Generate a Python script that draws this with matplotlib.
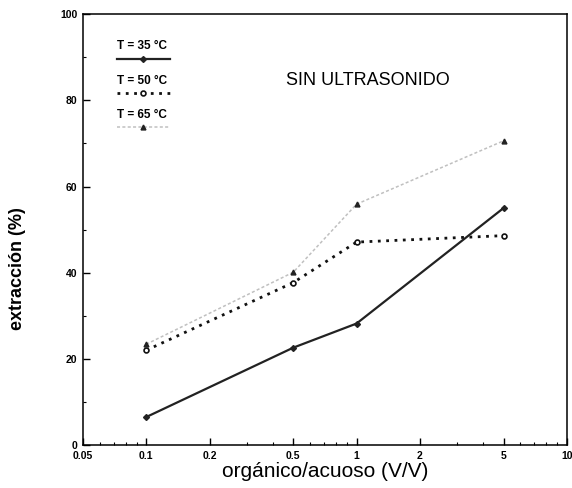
import matplotlib
matplotlib.use("Agg")
import matplotlib.pyplot as plt
from matplotlib.lines import Line2D
from matplotlib.ticker import FixedLocator, NullFormatter

plt.rcParams['font.family'] = ['Liberation Sans', 'DejaVu Sans']

x_ratio = [0.1, 0.5, 1, 5]
ext_35 = [6.5, 22.6, 28.2, 55.0]
ext_50 = [22.0, 37.7, 47.1, 48.6]
ext_65 = [23.4, 40.1, 55.9, 70.6]
labels = ["T = 35 \u00b0C", "T = 50 \u00b0C", "T = 65 \u00b0C"]
x_ticks = [0.05, 0.1, 0.2, 0.5, 1, 2, 5, 10]
x_ticklabels = ["0.05", "0.1", "0.2", "0.5", "1", "2", "5", "10"]
y_ticks = [0, 20, 40, 60, 80, 100]

fig = plt.figure(figsize=(5.72, 4.88), dpi=100)
ax = fig.add_axes([0.145, 0.088, 0.846, 0.883])

styles = [
    dict(color='#222222', ls='-', lw=1.6, marker='D', ms=3, mfc='#222222'),
    dict(color='#111111', ls=(0, (1, 2)), lw=2.0, marker='o', ms=3.5, mfc='white', mew=1.2),
    dict(color='#c0c0c0', ls=(0, (2, 1.5)), lw=1.1, marker='^', ms=3.5, mfc='#222222', mec='#222222'),
]
for ys, st in zip([ext_35, ext_50, ext_65], styles):
    ax.plot(x_ratio, ys, **st)

ax.set_xscale('log')
ax.set_xlim(0.05, 10)
ax.set_ylim(0, 100)
ax.xaxis.set_major_locator(FixedLocator(x_ticks))
ax.set_xticklabels(x_ticklabels)
ax.xaxis.set_minor_formatter(NullFormatter())
ax.set_yticks(y_ticks)
ax.yaxis.set_minor_locator(FixedLocator([10, 30, 50, 70, 90]))
ax.tick_params(axis='both', which='major', direction='in', length=5, width=1,
               labelsize=7.5, pad=4)
ax.tick_params(axis='both', which='minor', direction='in', length=2.5, width=0.8)
for lab in ax.get_xticklabels() + ax.get_yticklabels():
    lab.set_fontweight('bold')
for sp in ax.spines.values():
    sp.set_linewidth(1.1)

ax.set_xlabel("org\u00e1nico/acuoso (V/V)", fontsize=15, labelpad=1)
ax.set_ylabel("extracci\u00f3n (%)", fontsize=13, fontweight='bold')
ax.yaxis.set_label_coords(-0.118, 0.41)

ax.text(0.42, 0.845, "SIN ULTRASONIDO", transform=ax.transAxes, fontsize=13,
        ha='left', va='center')

# legend-like key: label above line sample
for i, (lab, st) in enumerate(zip(labels, styles)):
    yl = 0.925 - i * 0.08
    ax.text(0.07, yl, lab, transform=ax.transAxes, fontsize=8.5, fontweight='bold',
            ha='left', va='center')
    line = Line2D([0.07, 0.125, 0.18], [yl - 0.028] * 3, transform=ax.transAxes,
                  markevery=[1], **st)
    ax.add_line(line)

fig.savefig("out.png", dpi=100)
